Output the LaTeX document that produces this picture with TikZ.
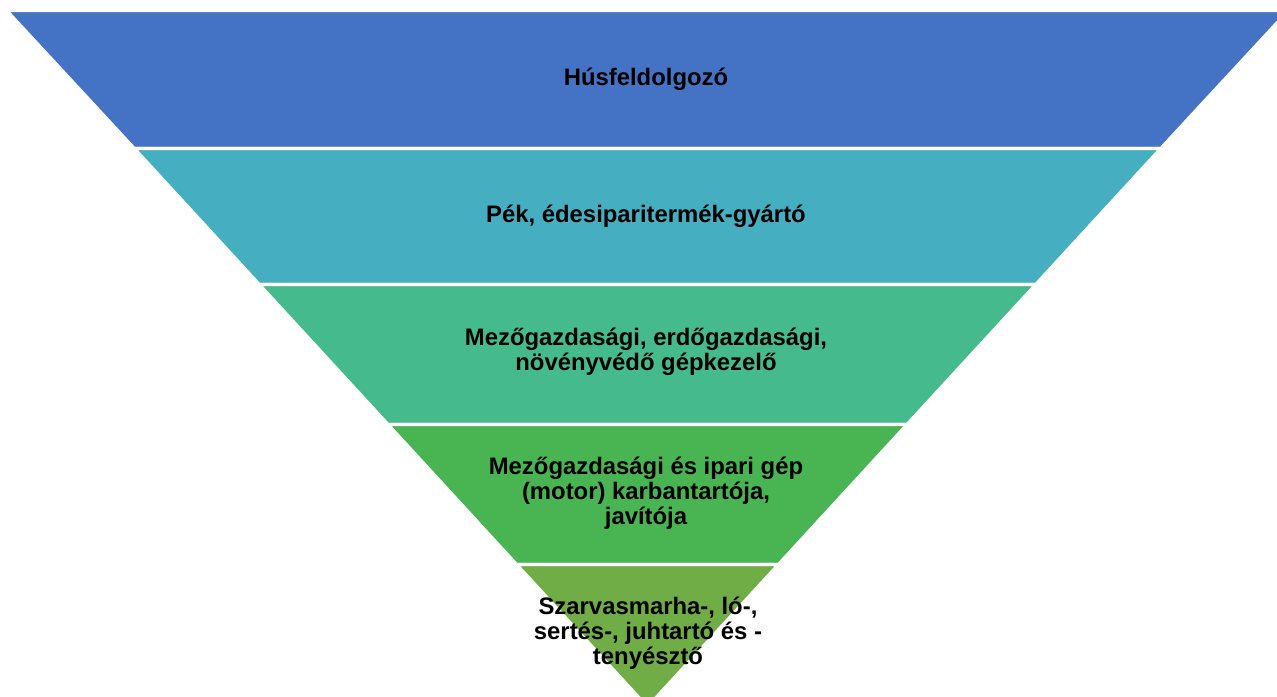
\documentclass[tikz,border=0pt]{standalone}
\usepackage{fontspec}
\setmainfont{Liberation Sans}
\definecolor{bandone}{HTML}{4472C4}
\definecolor{bandtwo}{HTML}{45AFC1}
\definecolor{bandthree}{HTML}{45BB8D}
\definecolor{bandfour}{HTML}{48B452}
\definecolor{bandfive}{HTML}{70AD47}
\tikzset{
  band/.style={draw=white, line width=2.5pt, line join=round},
  bandlabel/.style={font=\bfseries\fontsize{17.9}{18.9}\selectfont, align=center, text=black, inner sep=0pt}
}

\begin{document}
\begin{tikzpicture}[x=0.75pt, y=-0.75pt]
      \useasboundingbox (0,0) rectangle (1277,696);
      \clip (0,0) rectangle (1277,696);

      % funnel bands, top to bottom
      \path[band, fill=bandone] (6.5,10.5) -- (1288.5,10.5) -- (1160.8,148.5) -- (134.2,148.5) -- cycle;
      \path[band, fill=bandtwo] (134.2,148.5) -- (1160.8,148.5) -- (1035.8,284.5) -- (259.2,284.5) -- cycle;
      \path[band, fill=bandthree] (259.2,284.5) -- (1035.8,284.5) -- (907.1,424.5) -- (387.9,424.5) -- cycle;
      \path[band, fill=bandfour] (387.9,424.5) -- (907.1,424.5) -- (778.5,564.5) -- (516.5,564.5) -- cycle;
      \path[band, fill=bandfive] (516.5,564.5) -- (778.5,564.5) -- (647.5,707) -- cycle;

      \node[bandlabel] (meat) at (646,79) {Húsfeldolgozó};
      \node[bandlabel] (baker) at (646,216) {Pék, édesiparitermék-gyártó};
      \node[bandlabel] (farmop) at (646,352) {Mezőgazdasági, erdőgazdasági,\\ növényvédő gépkezelő};
      \node[bandlabel] (mechanic) at (646,493) {Mezőgazdasági és ipari gép\\ (motor) karbantartója,\\ javítója};
      \node[bandlabel] (breeder) at (648,633) {Szarvasmarha-, ló-,\\ sertés-, juhtartó és -\\ tenyésztő};
\end{tikzpicture}
\end{document}
